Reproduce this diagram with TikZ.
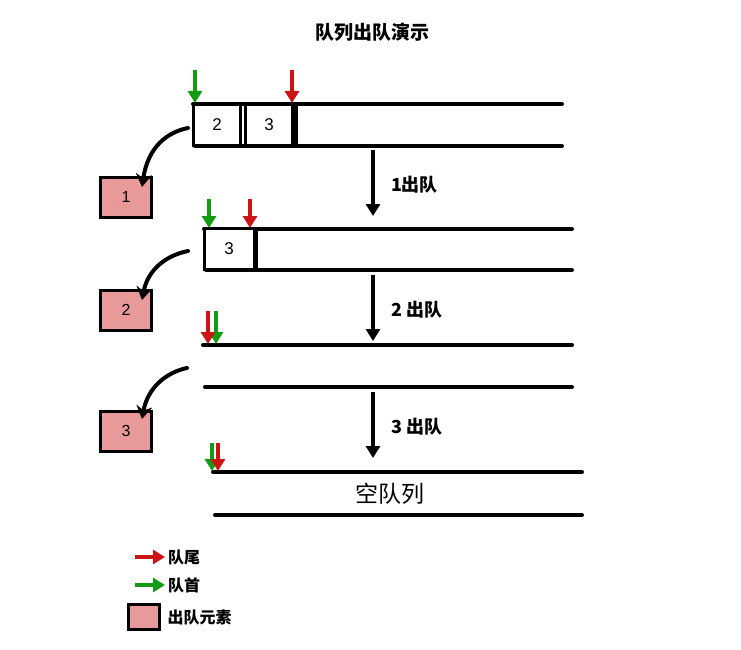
\documentclass[tikz,border=0pt]{standalone}
\usepackage{fontspec}
\setmainfont{Liberation Sans}
\newfontfamily\cjk{Noto Sans CJK SC}
\usetikzlibrary{positioning,arrows.meta}
\definecolor{tailred}{RGB}{205,20,20}
\definecolor{headgreen}{RGB}{20,155,20}
\definecolor{outpink}{RGB}{232,153,154}

\begin{document}
\begin{tikzpicture}[x=1pt,y=-1pt]
                        \tikzstyle{every node}=[inner sep=0,outer sep=0]
                        \tikzstyle{rail}=[line width=4,line cap=round]
                        \tikzstyle{cell}=[draw,line width=3,fill=white,minimum width=47,minimum height=41,font=\fontsize{17}{17}\selectfont]
                        \tikzstyle{outbox}=[draw,line width=3,fill=outpink,minimum width=51,minimum height=40,font=\fontsize{16}{16}\selectfont]
                        \tikzstyle{ptr}=[line width=3.5,-{Triangle[width=14,length=12]}]
                        \tikzstyle{drop}=[line width=4,-{Triangle[width=14,length=12]}]
                        \tikzstyle{swing}=[line width=4,line cap=round,-{Stealth[width=16,length=13]}]
                        \tikzstyle{note}=[font=\cjk\bfseries\fontsize{18}{18}\selectfont]
                        \tikzstyle{legend}=[font=\cjk\bfseries\fontsize{16}{16}\selectfont,text=black,anchor=west]
                        \useasboundingbox (0,0) rectangle (741,650);

                        \node[font=\cjk\bfseries\fontsize{19}{19}\selectfont] (title) at (372,32) {队列出队演示};

                        % the four queues
                        \foreach \n/\x/\t/\b/\e in {1/193/104/146/562,2/204/229/270/572,3/203/345/387/572,4/213/472/515/582} {
                            \coordinate (top\n) at (\x,\t);
                            \coordinate (topend\n) at (\e,\t);
                            \coordinate (bot\n) at (\x+2,\b);
                            \coordinate (botend\n) at (\e,\b);
                            \draw[rail] (top\n) -- (topend\n);
                            \draw[rail] (bot\n) -- (botend\n);
                        }

                        \node[cell] (c2) at (217,125) {2};
                        \node[cell] (c3) at (269,125) {3};
                        \draw[rail] (296,104) -- (296,146);
                        \node[cell,minimum width=50] (d3) at (229,249) {3};
                        \draw[rail] (256,229) -- (256,270);

                        % front and rear pointers
                        \draw[ptr,headgreen] (195,70) -- (195,103);
                        \draw[ptr,tailred] (292,70) -- (292,103);
                        \draw[ptr,headgreen] (209,199) -- (209,228);
                        \draw[ptr,tailred] (250,199) -- (250,228);
                        \draw[ptr,headgreen] (216,311) -- (216,344);
                        \draw[ptr,tailred] (208,311) -- (208,344);
                        \draw[ptr,headgreen] (212,443) -- (212,471);
                        \draw[ptr,tailred] (218,443) -- (218,471);

                        % dequeued elements
                        \node[outbox] (out1) at (126,197) {1};
                        \node[outbox] (out2) at (126,310) {2};
                        \node[outbox] (out3) at (126,431) {3};
                        \coordinate (from1) at (188,128);
                        \coordinate (from2) at (188,251);
                        \coordinate (from3) at (187,368);
                        \draw[swing] (from1) .. controls (168,132) and (148,146) .. ([xshift=16,yshift=-10]out1.north);
                        \draw[swing] (from2) .. controls (168,255) and (148,268) .. ([xshift=16,yshift=-10]out2.north);
                        \draw[swing] (from3) .. controls (168,372) and (148,386) .. ([xshift=16,yshift=-8]out3.north);

                        % steps
                        \draw[drop] (373,150) -- (373,216);
                        \draw[drop] (373,275) -- (373,341);
                        \draw[drop] (373,392) -- (373,458);
                        \node[note,anchor=west] (s1) at (391,185) {1出队};
                        \node[note,anchor=west] (s2) at (391,310) {2 出队};
                        \node[note,anchor=west] (s3) at (391,427) {3 出队};
                        \node[font=\cjk\fontsize{23}{23}\selectfont] (empty) at (390,494) {空队列};

                        % legend
                        \coordinate (lr) at (135,557);
                        \coordinate (lg) at (135,585);
                        \draw[ptr,tailred] (lr) -- ++(30,0) node[legend,right=3] (ltail) {队尾};
                        \draw[ptr,headgreen] (lg) -- ++(30,0) node[legend,right=3] (lhead) {队首};
                        \node[outbox,minimum width=31,minimum height=25] (lbox) at (144,617) {};
                        \node[legend,right=8 of lbox] (lout) {出队元素};
\end{tikzpicture}
\end{document}
